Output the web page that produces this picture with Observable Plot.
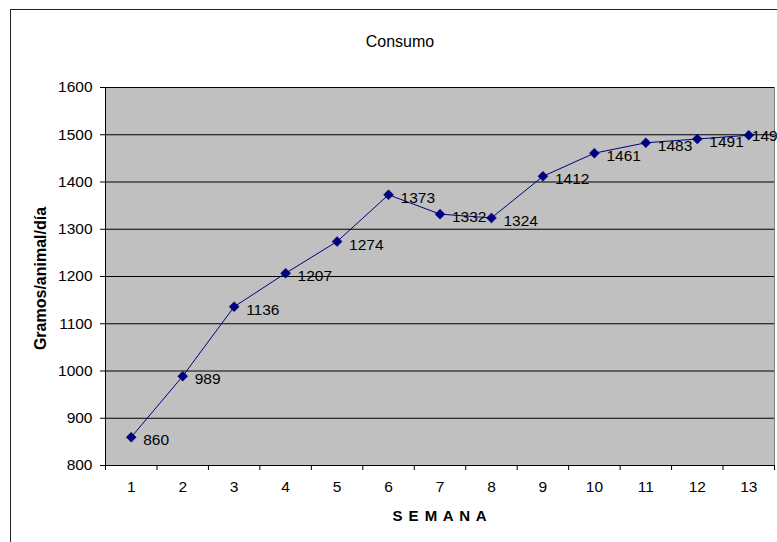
<!DOCTYPE html>
<html>
<head>
<meta charset="utf-8">
<script src="https://cdn.jsdelivr.net/npm/d3@7"></script>
<script src="https://cdn.jsdelivr.net/npm/@observablehq/plot@0.6"></script>
<style>
  html, body { margin: 0; padding: 0; background: #fff; overflow: hidden; }
  #wrap { position: relative; width: 777px; height: 542px; overflow: hidden; }
  #border { position: absolute; left: 10px; top: 9px; width: 2000px; height: 2000px; border: 1px solid #222; pointer-events: none; }
  svg { display: block; }
</style>
</head>
<body>
<div id="wrap"><div id="border"></div></div>
<script>
const semanas = [1, 2, 3, 4, 5, 6, 7, 8, 9, 10, 11, 12, 13];
const consumo = [860, 989, 1136, 1207, 1274, 1373, 1332, 1324, 1412, 1461, 1483, 1491, 1499];
const yTicks = [800, 900, 1000, 1100, 1200, 1300, 1400, 1500, 1600];
const xEdges = [0.5, 1.5, 2.5, 3.5, 4.5, 5.5, 6.5, 7.5, 8.5, 9.5, 10.5, 11.5, 12.5, 13.5];
const titulo = "Consumo";
const tituloY = "Gramos/animal/día";
const tituloX = "S E M A N A";

const data = semanas.map((s, i) => ({semana: s, valor: consumo[i]}));
const lastIdx = data.length - 1;

const chart = Plot.plot({
  width: 777,
  height: 542,
  marginLeft: 105,
  marginRight: 3,
  marginTop: 87,
  marginBottom: 77,
  x: {domain: [0.5, 13.5]},
  y: {domain: [800, 1600]},
  style: {fontFamily: "'Liberation Sans', Arial, sans-serif", fontSize: "15px", background: "transparent", color: "#000"},
  marks: [
    Plot.frame({fill: "#c0c0c0", stroke: "#808080"}),
    Plot.ruleY(yTicks, {stroke: "#000", strokeWidth: 1}),
    Plot.ruleX([0.5], {stroke: "#000"}),
    Plot.axisY({ticks: yTicks, tickSize: 5, tickPadding: 8, label: null, fontSize: 15.5, tickFormat: d => String(d)}),
    Plot.axisX({ticks: xEdges, tickSize: 5, tickFormat: () => "", label: null}),
    Plot.axisX({ticks: semanas, tickSize: 0, tickPadding: 15, label: null, fontSize: 15.5}),
    Plot.line(data, {x: "semana", y: "valor", stroke: "#000080", strokeWidth: 1}),
    Plot.dot(data, {x: "semana", y: "valor", symbol: "diamond2", r: 4.5, fill: "#000080", stroke: "#000080", strokeWidth: 0.5}),
    Plot.text(data.slice(0, lastIdx), {x: "semana", y: "valor", text: d => String(d.valor), textAnchor: "start", dx: 12, dy: 3, fontSize: 15.5, fill: "#000"}),
    Plot.text(data.slice(lastIdx), {x: "semana", y: "valor", text: d => String(d.valor), textAnchor: "start", dx: 3, dy: 1, fontSize: 15.5, fill: "#000"}),
    Plot.text([titulo], {frameAnchor: "top", dx: -40, dy: -52, fontSize: 16}),
    Plot.text([tituloY], {frameAnchor: "left", textAnchor: "middle", rotate: -90, dx: -65, dy: 2, fontWeight: "bold", fontSize: 16}),
    Plot.text([tituloX], {frameAnchor: "bottom", dy: 55, fontWeight: "bold", fontSize: 15})
  ]
});
document.getElementById("wrap").prepend(chart);
d3.select(chart).selectAll("text").filter(function() { return this.textContent === tituloX; }).attr("letter-spacing", "1px");
</script>
</body>
</html>
